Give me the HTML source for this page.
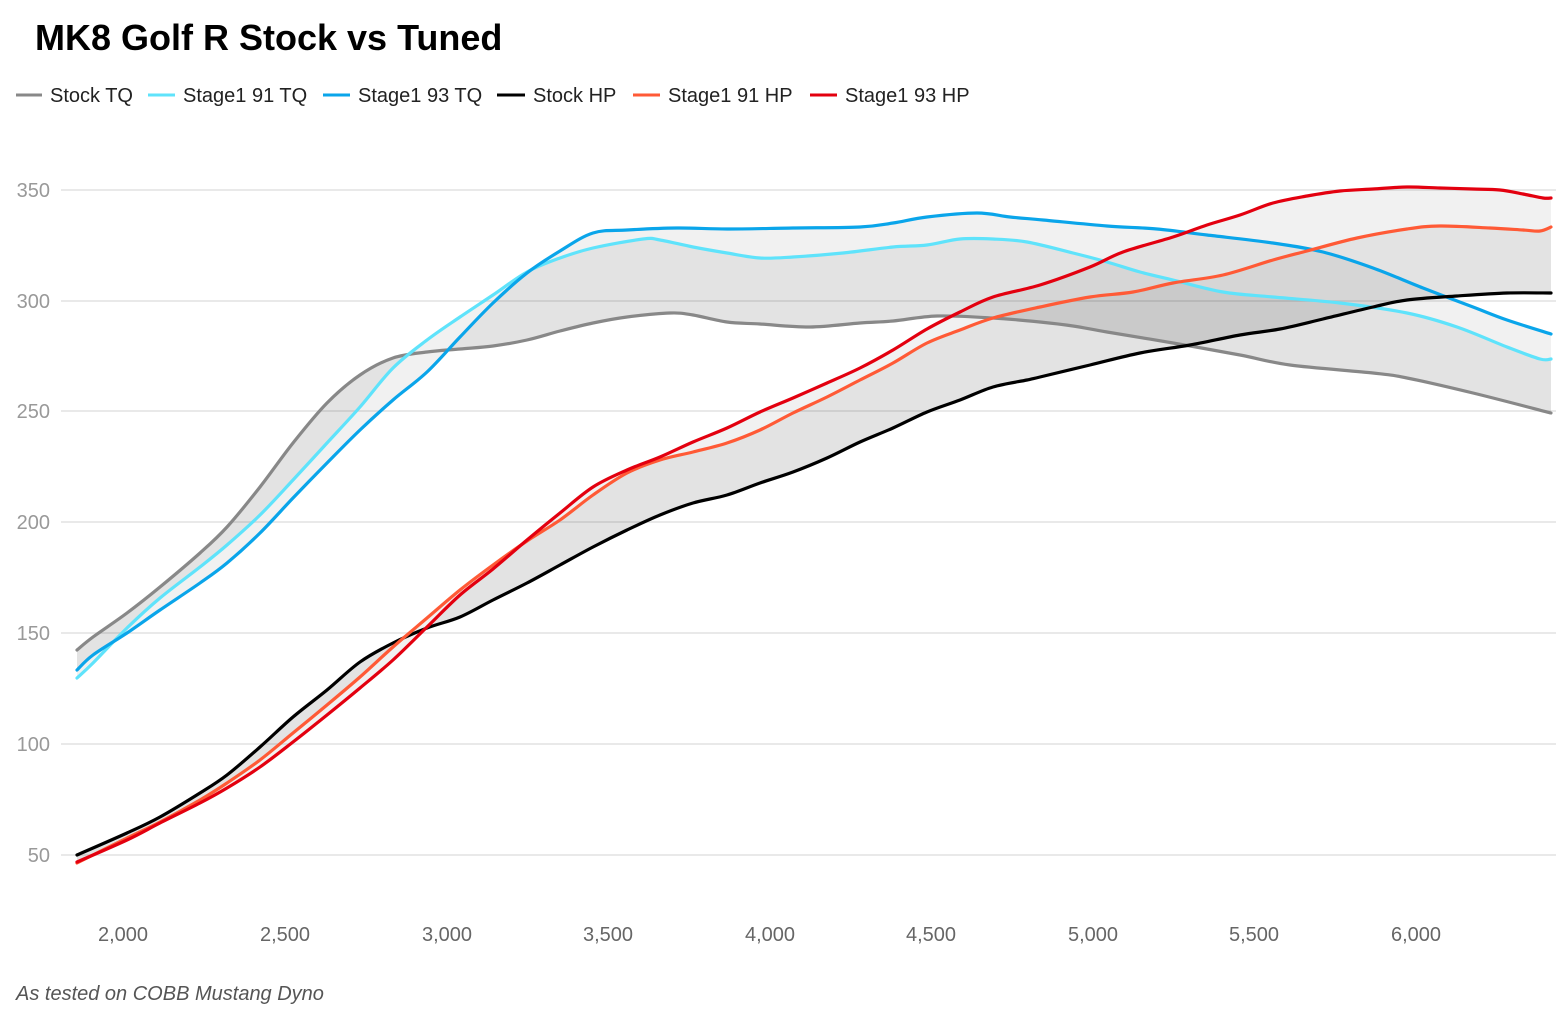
<!DOCTYPE html>
<html>
<head>
<meta charset="utf-8">
<style>
  html,body{margin:0;padding:0;background:#fff;}
  svg{display:block;}
  text{font-family:"Liberation Sans",Arial,sans-serif;}
</style>
</head>
<body>
<svg id="chart" width="1556" height="1012" viewBox="0 0 1556 1012" xmlns="http://www.w3.org/2000/svg">
  <rect x="0" y="0" width="1556" height="1012" fill="#fff"/>

  <!-- Title -->
  <text x="35" y="50" font-size="36" font-weight="bold" fill="#000">MK8 Golf R Stock vs Tuned</text>

  <!-- Legend -->
  <g stroke-width="3" stroke-linecap="butt">
    <line x1="16" y1="95" x2="42" y2="95" stroke="#888888"/>
    <line x1="148" y1="95" x2="175" y2="95" stroke="#5fe3fb"/>
    <line x1="323" y1="95" x2="350" y2="95" stroke="#0aa5ea"/>
    <line x1="497" y1="95" x2="525" y2="95" stroke="#000000"/>
    <line x1="633" y1="95" x2="660" y2="95" stroke="#ff5a36"/>
    <line x1="810" y1="95" x2="837" y2="95" stroke="#e3000f"/>
  </g>
  <g font-size="20" fill="#222">
    <text x="50" y="102">Stock TQ</text>
    <text x="183" y="102">Stage1 91 TQ</text>
    <text x="358" y="102">Stage1 93 TQ</text>
    <text x="533" y="102">Stock HP</text>
    <text x="668" y="102">Stage1 91 HP</text>
    <text x="845" y="102">Stage1 93 HP</text>
  </g>

  <!-- Gridlines -->
  <g stroke="#e2e2e2" stroke-width="1.6">
    <line x1="61" y1="190" x2="1556" y2="190"/>
    <line x1="61" y1="301" x2="1556" y2="301"/>
    <line x1="61" y1="411" x2="1556" y2="411"/>
    <line x1="61" y1="522" x2="1556" y2="522"/>
    <line x1="61" y1="633" x2="1556" y2="633"/>
    <line x1="61" y1="744" x2="1556" y2="744"/>
    <line x1="61" y1="855" x2="1556" y2="855"/>
  </g>

  <!-- Y labels -->
  <g font-size="20" fill="#999" text-anchor="end">
    <text x="50" y="197">350</text>
    <text x="50" y="308">300</text>
    <text x="50" y="418">250</text>
    <text x="50" y="529">200</text>
    <text x="50" y="640">150</text>
    <text x="50" y="751">100</text>
    <text x="50" y="862">50</text>
  </g>

  <!-- X labels -->
  <g font-size="20" fill="#666" text-anchor="middle">
    <text x="123" y="941">2,000</text>
    <text x="285" y="941">2,500</text>
    <text x="447" y="941">3,000</text>
    <text x="608" y="941">3,500</text>
    <text x="770" y="941">4,000</text>
    <text x="931" y="941">4,500</text>
    <text x="1093" y="941">5,000</text>
    <text x="1254" y="941">5,500</text>
    <text x="1416" y="941">6,000</text>
  </g>

  <!-- Fills -->
  <g fill="rgba(0,0,0,0.055)" stroke="none">
    <polygon id="fA" points="77,678 93,663 127,628 160,598 200,567 227,545 260,515 293,480 327,443 360,407 393,368 427,340 460,317 493,295 527,272 560,258 593,248 643,239 660,240 693,247 727,253 760,258 793,257 843,253 893,247 927,245 960,239 993,239 1027,242 1073,253 1107,262 1140,272 1173,280 1223,292 1273,297 1340,303 1407,313 1457,327 1507,347 1540,359 1551,359 1551,413 1473,393 1407,378 1373,373 1290,365 1240,355 1173,343 1107,332 1073,326 1040,322 993,318 937,316 893,321 860,323 810,327 760,324 727,322 693,315 670,313 627,317 593,323 560,331 527,340 493,346 460,349 427,352 393,358 360,375 327,403 293,443 260,487 227,527 200,553 160,587 127,613 93,637 77,650"/>
    <polygon id="fB" points="77,670 93,655 127,633 160,610 200,583 227,563 260,533 293,498 327,463 360,430 393,400 427,372 460,337 493,303 527,273 560,251 593,233 627,230 677,228 727,229 793,228 860,227 893,223 927,217 977,213 1010,217 1043,220 1107,226 1157,229 1207,235 1273,243 1323,252 1373,268 1423,288 1473,307 1507,320 1551,334 1551,413 1473,393 1407,378 1373,373 1290,365 1240,355 1173,343 1107,332 1073,326 1040,322 993,318 937,316 893,321 860,323 810,327 760,324 727,322 693,315 670,313 627,317 593,323 560,331 527,340 493,346 460,349 427,352 393,358 360,375 327,403 293,443 260,487 227,527 200,553 160,587 127,613 93,637 77,650"/>
    <polygon id="fC" points="77,863 127,838 160,822 200,800 227,783 260,760 293,733 327,705 360,677 393,647 427,618 460,590 493,565 527,541 560,520 593,495 627,473 660,460 693,452 727,443 760,430 793,413 827,397 860,380 893,363 927,343 960,330 993,318 1040,307 1090,297 1133,292 1173,283 1223,275 1273,260 1307,251 1357,238 1407,229 1440,226 1490,228 1523,230 1540,231 1551,227 1551,293 1507,293 1457,296 1407,300 1373,307 1323,319 1280,329 1240,335 1190,345 1140,353 1090,365 1040,377 1027,380 993,387 960,400 927,412 893,428 860,442 827,458 793,472 760,483 727,495 693,503 660,515 627,530 593,547 560,565 527,583 493,600 460,617 427,628 393,643 360,662 327,690 293,717 260,747 227,775 200,793 160,817 127,833 77,855"/>
    <polygon id="fD" points="77,862 127,840 160,823 200,803 227,788 260,767 293,742 327,715 360,688 393,660 427,627 460,595 493,569 527,540 560,513 593,487 627,470 660,457 693,442 727,428 760,412 793,398 827,383 860,368 893,350 927,329 960,312 993,297 1040,285 1090,267 1123,252 1173,237 1207,225 1240,215 1273,203 1307,196 1340,191 1373,189 1407,187 1440,188 1473,189 1500,190 1523,194 1543,198 1551,198 1551,293 1507,293 1457,296 1407,300 1373,307 1323,319 1280,329 1240,335 1190,345 1140,353 1090,365 1040,377 1027,380 993,387 960,400 927,412 893,428 860,442 827,458 793,472 760,483 727,495 693,503 660,515 627,530 593,547 560,565 527,583 493,600 460,617 427,628 393,643 360,662 327,690 293,717 260,747 227,775 200,793 160,817 127,833 77,855"/>
  </g>

  <!-- Lines -->
  <g fill="none" stroke-width="3.2" stroke-linejoin="round" stroke-linecap="round">
    <polyline id="stq" stroke="#888888" points="77,650 93,637 127,613 160,587 200,553 227,527 260,487 293,443 327,403 360,375 393,358 427,352 460,349 493,346 527,340 560,331 593,323 627,317 670,313 693,315 727,322 760,324 810,327 860,323 893,321 937,316 993,318 1040,322 1073,326 1107,332 1173,343 1240,355 1290,365 1373,373 1407,378 1473,393 1551,413"/>
    <polyline id="t91" stroke="#5fe3fb" points="77,678 93,663 127,628 160,598 200,567 227,545 260,515 293,480 327,443 360,407 393,368 427,340 460,317 493,295 527,272 560,258 593,248 643,239 660,240 693,247 727,253 760,258 793,257 843,253 893,247 927,245 960,239 993,239 1027,242 1073,253 1107,262 1140,272 1173,280 1223,292 1273,297 1340,303 1407,313 1457,327 1507,347 1540,359 1551,359"/>
    <polyline id="t93" stroke="#0aa5ea" points="77,670 93,655 127,633 160,610 200,583 227,563 260,533 293,498 327,463 360,430 393,400 427,372 460,337 493,303 527,273 560,251 593,233 627,230 677,228 727,229 793,228 860,227 893,223 927,217 977,213 1010,217 1043,220 1107,226 1157,229 1207,235 1273,243 1323,252 1373,268 1423,288 1473,307 1507,320 1551,334"/>
    <polyline id="shp" stroke="#000000" points="77,855 127,833 160,817 200,793 227,775 260,747 293,717 327,690 360,662 393,643 427,628 460,617 493,600 527,583 560,565 593,547 627,530 660,515 693,503 727,495 760,483 793,472 827,458 860,442 893,428 927,412 960,400 993,387 1027,380 1040,377 1090,365 1140,353 1190,345 1240,335 1280,329 1323,319 1373,307 1407,300 1457,296 1507,293 1551,293"/>
    <polyline id="h91" stroke="#ff5a36" points="77,863 127,838 160,822 200,800 227,783 260,760 293,733 327,705 360,677 393,647 427,618 460,590 493,565 527,541 560,520 593,495 627,473 660,460 693,452 727,443 760,430 793,413 827,397 860,380 893,363 927,343 960,330 993,318 1040,307 1090,297 1133,292 1173,283 1223,275 1273,260 1307,251 1357,238 1407,229 1440,226 1490,228 1523,230 1540,231 1551,227"/>
    <polyline id="h93" stroke="#e3000f" points="77,862 127,840 160,823 200,803 227,788 260,767 293,742 327,715 360,688 393,660 427,627 460,595 493,569 527,540 560,513 593,487 627,470 660,457 693,442 727,428 760,412 793,398 827,383 860,368 893,350 927,329 960,312 993,297 1040,285 1090,267 1123,252 1173,237 1207,225 1240,215 1273,203 1307,196 1340,191 1373,189 1407,187 1440,188 1473,189 1500,190 1523,194 1543,198 1551,198"/>
  </g>

  <!-- Footer -->
  <text x="16" y="1000" font-size="20" font-style="italic" fill="#555">As tested on COBB Mustang Dyno</text>
</svg>
<script>
(function(){
  var NS='http://www.w3.org/2000/svg';
  function pts(el){
    return el.getAttribute('points').trim().split(/\s+/).map(function(s){var a=s.split(',');return [+a[0],+a[1]];});
  }
  function seg(p){
    var d='';
    for(var i=0;i<p.length-1;i++){
      var p0=p[i-1]||p[i],p1=p[i],p2=p[i+1],p3=p[i+2]||p2;
      var c1x=p1[0]+(p2[0]-p0[0])/6,c1y=p1[1]+(p2[1]-p0[1])/6;
      var c2x=p2[0]-(p3[0]-p1[0])/6,c2y=p2[1]-(p3[1]-p1[1])/6;
      d+=' C'+c1x.toFixed(2)+','+c1y.toFixed(2)+' '+c2x.toFixed(2)+','+c2y.toFixed(2)+' '+p2[0]+','+p2[1];
    }
    return d;
  }
  try{
    var ids=['stq','t91','t93','shp','h91','h93'];var P={};
    ids.forEach(function(id){
      var el=document.getElementById(id);var p=pts(el);P[id]=p;
      var path=document.createElementNS(NS,'path');
      path.setAttribute('d','M'+p[0][0]+','+p[0][1]+seg(p));
      path.setAttribute('stroke',el.getAttribute('stroke'));
      el.parentNode.replaceChild(path,el);
    });
    [['fA','t91','stq'],['fB','t93','stq'],['fC','h91','shp'],['fD','h93','shp']].forEach(function(f){
      var el=document.getElementById(f[0]);
      var u=P[f[1]],l=P[f[2]].slice().reverse();
      var path=document.createElementNS(NS,'path');
      path.setAttribute('d','M'+u[0][0]+','+u[0][1]+seg(u)+' L'+l[0][0]+','+l[0][1]+seg(l)+' Z');
      el.parentNode.replaceChild(path,el);
    });
  }catch(e){}
})();
</script>
</body>
</html>
